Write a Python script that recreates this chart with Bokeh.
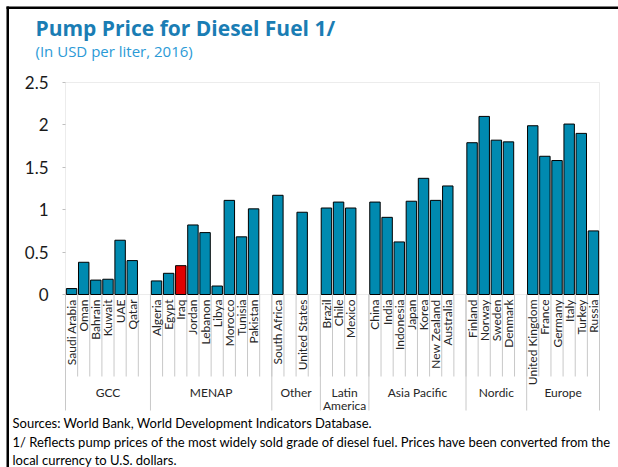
from math import pi
from bokeh.plotting import figure
from bokeh.models import (Range1d, FixedTicker, LinearAxis, ColumnDataSource,
                          Label, BoxAnnotation)
from bokeh.core.properties import value
from bokeh.embed import file_html
from bokeh.resources import INLINE

# ---------------- data ----------------
group_names = ["GCC", "MENAP", "Other", "Latin\nAmerica", "Asia Pacific", "Nordic", "Europe"]
gcc = ["Saudi Arabia", "Oman", "Bahrain", "Kuwait", "UAE", "Qatar", ""]
gcc_price = [0.07, 0.38, 0.17, 0.18, 0.64, 0.40, None]
menap = ["Algeria", "Egypt", "Iraq", "Jordan", "Lebanon", "Libya", "Morocco", "Tunisia", "Pakistan", ""]
menap_price = [0.16, 0.25, 0.34, 0.82, 0.73, 0.10, 1.11, 0.68, 1.01, None]
other = ["South Africa", "", "United States", ""]
other_price = [1.17, None, 0.97, None]
latam = ["Brazil", "Chile", "Mexico", ""]
latam_price = [1.02, 1.09, 1.02, None]
asiapac = ["China", "India", "Indonesia", "Japan", "Korea", "New Zealand", "Australia", ""]
asiapac_price = [1.09, 0.91, 0.62, 1.10, 1.37, 1.11, 1.28, None]
nordic = ["Finland", "Norway", "Sweden", "Denmark", ""]
nordic_price = [1.79, 2.10, 1.82, 1.80, None]
europe = ["United Kingdom", "France", "Germany", "Italy", "Turkey", "Russia"]
europe_price = [1.99, 1.63, 1.58, 2.01, 1.90, 0.75]
highlight = "Iraq"
y_ticks = [0, 0.5, 1, 1.5, 2, 2.5]
y_tick_labels = ["0", "0.5", "1", "1.5", "2", "2.5"]

groups = [gcc, menap, other, latam, asiapac, nordic, europe]
group_prices = [gcc_price, menap_price, other_price, latam_price, asiapac_price,
                nordic_price, europe_price]

slots = [c for g in groups for c in g]
prices = [v for g in group_prices for v in g]
n = len(slots)
y_max = y_ticks[-1]

# ---------------- geometry (canvas px -> data) ----------------
W, H = 618, 467
PL, PR, PT, PB = 65, 599, 82, 294  # plot area in px
xs_per = (PR - PL) / n
ys_per = (PB - PT) / y_max


def dx(px):
    return (px - PL) / xs_per


def dy(py):
    return (PB - py) / ys_per


p = figure(width=W, height=H,
           x_range=Range1d(dx(0), dx(W)), y_range=Range1d(dy(H), dy(0)),
           output_backend="svg", toolbar_location=None,
           x_axis_type=None, y_axis_type=None,
           min_border_left=0, min_border_right=0, min_border_top=0, min_border_bottom=0)
p.outline_line_color = None
p.background_fill_color = "white"
p.border_fill_color = "white"

GRID = "#C8C8C8"
FONT = "Lato"

# plot-area outline
p.add_layout(BoxAnnotation(left=0, right=n, bottom=0, top=y_max, fill_color=None,
                           fill_alpha=0, line_color="#BFBFBF", line_width=1, level="underlay"))

# bars
bx, bt, bc = [], [], []
for i, (c, v) in enumerate(zip(slots, prices)):
    if v is None:
        continue
    bx.append(i + 0.5)
    bt.append(v)
    bc.append("#E00000" if c == highlight else "#008AB0")
p.vbar(x="x", top="top", width=0.86, fill_color="color", line_color="black",
       line_width=1, source=ColumnDataSource(dict(x=bx, top=bt, color=bc)))

# y axis
yax = LinearAxis(ticker=FixedTicker(ticks=y_ticks), fixed_location=0, bounds=(0, y_max))
yax.major_label_overrides = {t: l for t, l in zip(y_ticks, y_tick_labels)}
yax.axis_line_color = None
yax.major_tick_in = 0
yax.major_tick_out = 3
yax.major_tick_line_color = "#BFBFBF"
yax.minor_tick_line_color = None
yax.major_label_standoff = 14
yax.major_label_text_font = FONT
yax.major_label_text_font_size = "17px"
yax.major_label_text_color = "#1A1A1A"
p.add_layout(yax, "left")

# slot-boundary ticks below the category axis
slot_edges = list(range(n + 1))
p.segment(x0=slot_edges, y0=[0] * len(slot_edges), x1=slot_edges,
          y1=[dy(376)] * len(slot_edges), line_color=GRID, line_width=1)

# country labels (category tick labels)
centers = [i + 0.5 for i, c in enumerate(slots) if c]
names = [c for c in slots if c]
p.text(x=centers, y=[dy(299)] * len(centers), text=names, angle=pi / 2,
       text_align="right", text_baseline="middle", text_font=value(FONT),
       text_font_size="12px", text_color="#262626")

# group separators and labels
bounds = [0]
for g in groups:
    bounds.append(bounds[-1] + len(g))
p.segment(x0=bounds, y0=[0] * len(bounds), x1=bounds, y1=[dy(410)] * len(bounds),
          line_color=GRID, line_width=1)
for gname, b0, b1 in zip(group_names, bounds[:-1], bounds[1:]):
    for j, ln in enumerate(gname.split("\n")):
        p.add_layout(Label(x=(b0 + b1) / 2, y=dy(392 + 13 * j), text=ln,
                           text_align="center", text_baseline="middle",
                           text_font=FONT, text_font_size="12px", text_color="#262626"))

# title / subtitle
p.add_layout(Label(x=dx(35), y=dy(27), text="Pump Price for Diesel Fuel 1/",
                   text_font="Open Sans", text_font_style="bold", text_font_size="21px",
                   text_color="#1A7DB4", text_baseline="alphabetic"))
p.add_layout(Label(x=dx(35), y=dy(50), text="(In USD per liter, 2016)",
                   text_font="Open Sans", text_font_size="15px",
                   text_color="#2B9AD6", text_baseline="alphabetic"))

# footer
footer = ["Sources: World Bank, World Development Indicators Database.",
          "1/ Reflects pump prices of the most widely sold grade of diesel fuel. Prices have been converted from the",
          "local currency to U.S. dollars."]
for t, yy in zip(footer, [422, 441, 459]):
    p.add_layout(Label(x=dx(12), y=dy(yy), text=t, text_align="left", text_baseline="middle",
                       text_font=FONT, text_font_size="13px", text_color="black"))

# outer black frame (left and top)
p.add_layout(BoxAnnotation(left=dx(6), right=dx(8.5), top=dy(6), bottom=dy(H),
                           fill_color="black", fill_alpha=1, line_color=None, level="overlay"))
p.add_layout(BoxAnnotation(left=dx(6), right=dx(W), top=dy(6), bottom=dy(8.5),
                           fill_color="black", fill_alpha=1, line_color=None, level="overlay"))

open("out.html", "w").write(file_html(p, INLINE))
